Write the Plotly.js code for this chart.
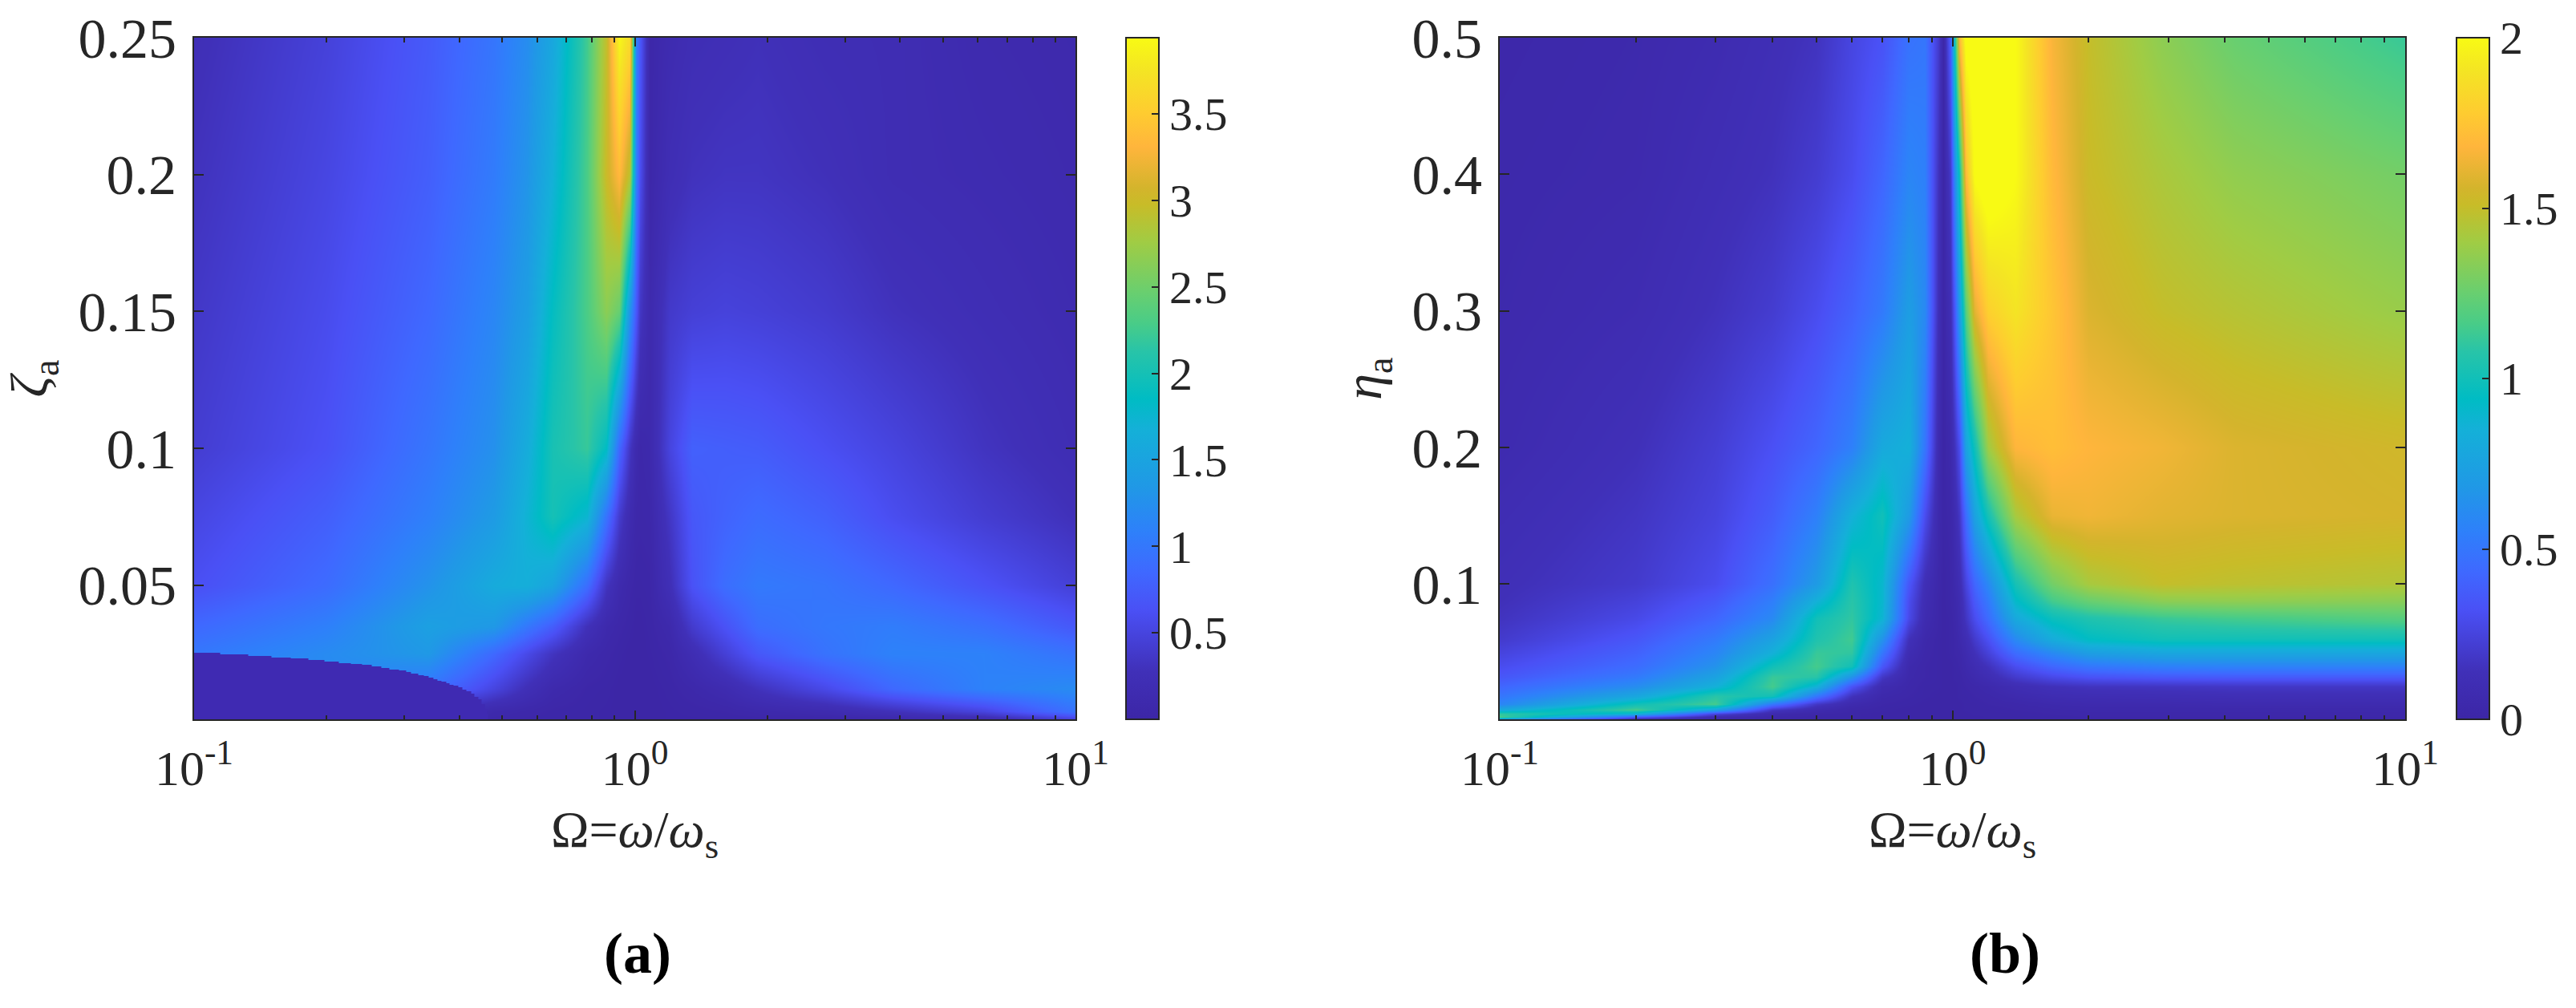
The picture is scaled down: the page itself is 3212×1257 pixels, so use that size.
<!DOCTYPE html>
<html><head><meta charset="utf-8">
<script src="https://cdn.plot.ly/plotly-3.0.1.min.js"></script>
<style>html,body{margin:0;padding:0;background:#fff}</style></head>
<body><div id="chart" style="width:3212px;height:1257px"></div>
<script>
// Panel (a): Omega (columns), zeta_a (rows, bottom to top)
const omegaA=[.1,.2,.34,.48,.57,.65,.78,.86,.92,.973,1.007,1.028,1.08,1.2,1.35,1.6,1.9,2.7,3.85,6.2,10];
const zetaA=[.001,.004,.012,.025,.035,.05,.075,.1,.15,.2,.25];
const zA=[
[.5,.5,.1,.05,.03,.02,.02,.01,0,0,0,0,0,.01,.01,.01,.02,.03,.07,.14,.45],
[1,1,.3,.1,.06,.03,.02,.01,0,0,0,0,0,.01,.02,.04,.08,.14,.28,.5,.95],
[1.1,1.2,.95,.5,.25,.1,.03,.02,0,0,0,0,0,.02,.07,.15,.3,.55,.85,1.1,1.2],
[1.0,1.2,1.35,.85,.55,.32,.1,.05,.02,0,0,0,.01,.05,.2,.45,.7,.95,1.1,1.1,.95],
[.85,1.08,1.45,1.35,1.0,.75,.28,.1,.05,.02,0,0,.02,.1,.4,.65,.9,1.0,1.05,.92,.7],
[.62,.88,1.28,1.6,1.65,1.5,.9,.32,.12,.05,.02,.02,.03,.25,.65,.9,1.02,.97,.85,.65,.45],
[.52,.76,1.08,1.38,1.72,2.0,1.75,.95,.4,.15,.06,.05,.06,.35,.7,.8,.88,.78,.6,.42,.28],
[.42,.64,.98,1.26,1.62,2.02,2.2,1.85,.85,.35,.12,.06,.1,.5,.78,.76,.74,.62,.5,.32,.2],
[.36,.58,.85,1.15,1.42,1.88,2.3,2.65,2.45,1.3,.7,.35,.12,.38,.45,.48,.46,.4,.3,.22,.15],
[.3,.52,.76,1.04,1.3,1.68,2.3,3.0,3.35,2.9,1.1,.6,.05,.22,.3,.33,.33,.28,.2,.16,.12],
[.25,.47,.72,.98,1.22,1.55,2.25,2.95,3.9,3.65,1.1,.7,.05,.15,.22,.25,.28,.22,.2,.13,.1]];
// Panel (a): dark lower-left region boundary
const darkOmega=[.1,.1146,.1327,.1498,.1657,.1817,.1976,.213,.2269,.2405,.253,.266,.2774,.2917,.3029,.3106,.3226,.3322,.3406,.3492,.3566,.3642,.3735,.3799,.3879,.3977,.4062,.4148,.4254,.4325,.4416,.4491,.4568,.4625,.4645];
const darkZeta=[.02532,.02473,.02415,.02356,.02327,.02268,.0221,.02151,.02122,.02092,.02034,.01975,.01917,.01887,.01829,.0177,.01712,.01682,.01624,.01565,.01506,.01477,.01419,.0136,.01331,.01272,.01184,.01126,.01038,.0092,.00833,.00657,.00481,.00305,.001];
// Panel (b): Omega (columns), eta_a (rows, bottom to top)
const omegaB=[.1,.2,.3,.4,.5,.6,.7,.8,.87,.93,.955,.99,1.01,1.035,1.07,1.12,1.2,1.38,1.66,2,2.9,4.2,10];
const etaB=[.001,.003,.005,.008,.012,.018,.025,.032,.04,.05,.06,.075,.088,.1,.15,.2,.3,.4,.5];
const zB=[
[.6,.05,.02,.01,.01,0,0,0,0,0,0,0,0,0,0,0,0,.01,.01,.01,.01,.01,.01],
[1.15,.35,.08,.03,.01,.01,0,0,0,0,0,0,0,0,0,0,.01,.01,.01,.02,.02,.02,.02],
[1.1,.85,.25,.06,.02,.01,0,0,0,0,0,0,0,0,0,.01,.01,.01,.02,.03,.03,.03,.03],
[.8,1.15,.75,.18,.07,.02,.01,0,0,0,0,0,0,0,.01,.01,.01,.02,.03,.04,.04,.04,.04],
[.58,1.0,1.15,.5,.18,.06,.02,.01,0,0,0,0,0,0,.01,.01,.02,.03,.05,.06,.06,.07,.07],
[.5,.78,1.08,1.0,.5,.15,.04,.02,.01,0,0,0,0,.01,.01,.02,.03,.06,.09,.1,.11,.12,.12],
[.42,.62,.85,1.15,.85,.33,.08,.03,.01,.01,0,0,0,.01,.02,.03,.05,.1,.14,.16,.17,.18,.18],
[.35,.52,.75,1.12,1.08,.65,.18,.04,.02,.01,0,0,.01,.01,.03,.06,.1,.2,.28,.33,.36,.37,.37],
[.3,.45,.65,1.0,1.15,1.0,.35,.05,.02,.01,0,0,.01,.02,.05,.09,.15,.3,.42,.5,.55,.56,.56],
[.25,.4,.58,.85,1.12,1.1,.5,.09,.03,.01,0,.01,.02,.03,.07,.14,.24,.45,.6,.72,.78,.78,.78],
[.2,.35,.52,.75,1.05,1.14,.65,.14,.04,.01,0,.01,.02,.05,.1,.2,.32,.6,.82,.94,1.0,1.0,1.0],
[.16,.28,.42,.6,1.0,1.1,.88,.28,.08,.02,0,.01,.03,.07,.17,.3,.45,.8,.98,1.05,1.12,1.15,1.2],
[.14,.24,.36,.54,.85,1.08,.9,.3,.1,.02,0,.02,.04,.08,.2,.36,.52,.92,1.15,1.25,1.35,1.36,1.34],
[.13,.2,.3,.47,.7,1.05,.9,.35,.12,.03,0,.02,.05,.1,.25,.42,.6,1.02,1.28,1.42,1.5,1.48,1.45],
[.1,.17,.25,.38,.55,.85,1.0,.7,.3,.05,.01,.03,.08,.18,.45,.75,1.02,1.42,1.62,1.64,1.6,1.58,1.56],
[.07,.14,.22,.32,.42,.55,.8,.85,.5,.07,0,.05,.15,.3,.75,1.0,1.4,1.68,1.72,1.68,1.64,1.58,1.54],
[.05,.09,.15,.21,.3,.4,.52,.72,.6,.12,.01,.12,.35,.7,1.2,1.6,1.8,1.9,1.75,1.58,1.5,1.46,1.38],
[.04,.06,.11,.15,.21,.3,.42,.58,.55,.15,.01,.2,.6,1.0,1.7,2.02,2.1,2.0,1.7,1.52,1.43,1.36,1.28],
[.03,.05,.08,.12,.16,.26,.33,.48,.5,.2,.02,.4,1.0,1.7,2.05,2.1,2.1,2.0,1.66,1.5,1.35,1.25,1.12]];
// Tick labels
const xTickVals=[.1,1,10];
const xTickText=['10<sup>-1</sup>','10<sup>0</sup>','10<sup>1</sup>'];
const zetaTicks=[.05,.1,.15,.2,.25];
const zetaLabels=['0.05','0.1','0.15','0.2','0.25'];
const etaTicks=[.1,.2,.3,.4,.5];
const etaLabels=['0.1','0.2','0.3','0.4','0.5'];
const barTicksA=[.5,1,1.5,2,2.5,3,3.5];
const barLabelsA=['0.5','1','1.5','2','2.5','3','3.5'];
const barTicksB=[0,.5,1,1.5,2];
const barLabelsB=['0','0.5','1','1.5','2'];
const parula=[[0,'#3c26a6'],[.07,'#4030b8'],[.16,'#4a50f5'],[.215,'#3f68ff'],[.275,'#2e80fa'],[.34,'#2098e6'],[.425,'#14b0d8'],[.47,'#00bcc4'],[.54,'#28c4a8'],[.58,'#48cc88'],[.625,'#68cf70'],[.7,'#a0cc44'],[.755,'#c8bc28'],[.78,'#d4b42c'],[.84,'#ffb53c'],[.89,'#fecc30'],[.95,'#f4e424'],[1,'#f8fa14']];

const W=3212,H=1257,ink='#262626',FONT='Liberation Serif';
const dx=(a,b)=>[a/W,b/W], dy=(t,b)=>[1-b/H,1-t/H];
function xax(dom){return {type:'log',domain:dom,range:[-1,1],tickmode:'array',tickvals:xTickVals,ticktext:xTickText,
 ticks:'inside',ticklen:11,tickwidth:2,tickcolor:ink,showline:true,linewidth:2,linecolor:ink,mirror:'ticks',showgrid:false,zeroline:false,
 minor:{ticks:'inside',ticklen:5.5,tickwidth:2,tickcolor:ink,tickvals:[.2,.3,.4,.5,.6,.7,.8,.9,2,3,4,5,6,7,8,9],showgrid:false},
 tickfont:{family:FONT,size:62,color:ink},ticklabelstandoff:6,
 title:{text:'Ω=<i>ω</i>/<i>ω</i><sub>s</sub>',font:{family:FONT,size:64,color:ink},standoff:20}};}
function yax(dom,range,tv,tt,ttl){return {domain:dom,range:range,tickmode:'array',tickvals:tv,ticktext:tt,
 ticks:'inside',ticklen:12,tickwidth:2,tickcolor:ink,showline:true,linewidth:2,linecolor:ink,mirror:'ticks',showgrid:false,zeroline:false,
 tickfont:{family:FONT,size:70,color:ink},ticklabelstandoff:6,
 title:{text:ttl,font:{family:FONT,size:66,color:ink},standoff:16}};}
function cbar(x,tv,tt){return {x:x/W,xanchor:'left',xpad:0,ypad:0,y:1-897/H,yanchor:'bottom',len:850/H,lenmode:'fraction',thickness:41,thicknessmode:'pixels',
 outlinewidth:2,outlinecolor:ink,tickmode:'array',tickvals:tv,ticktext:tt,ticks:'inside',ticklen:10,tickwidth:2,tickcolor:ink,
 tickfont:{family:FONT,size:58,color:ink}};}
const data=[
 {type:'heatmap',x:omegaA,y:zetaA,z:zA,zmin:0,zmax:3.94,zsmooth:'best',colorscale:parula,colorbar:cbar(1404,barTicksA,barLabelsA),xaxis:'x',yaxis:'y',hoverinfo:'skip'},
 {type:'scatter',mode:'lines',x:darkOmega,y:darkZeta,line:{width:0,shape:'hv'},fill:'tozeroy',fillcolor:'#3f2ab2',xaxis:'x',yaxis:'y',hoverinfo:'skip',showlegend:false},
 {type:'heatmap',x:omegaB,y:etaB,z:zB,zmin:0,zmax:2,zsmooth:'best',colorscale:parula,colorbar:cbar(3062.5,barTicksB,barLabelsB),xaxis:'x2',yaxis:'y2',hoverinfo:'skip'}
];
const xa=xax(dx(242,1341)), xb=xax(dx(1870,2999)); xb.anchor='y2';
const ya=yax(dy(47,897),[.001,.25],zetaTicks,zetaLabels,'<i>ζ</i><sub>a</sub>');
const yb=yax(dy(47,897),[.001,.5],etaTicks,etaLabels,'<i>η</i><sub>a</sub>'); yb.anchor='x2';
const layout={width:W,height:H,margin:{l:0,r:0,t:0,b:0},paper_bgcolor:'#fff',plot_bgcolor:'#fff',showlegend:false,
 xaxis:xa,yaxis:ya,xaxis2:xb,yaxis2:yb,
 annotations:[
  {text:'<b>(a)</b>',xref:'paper',yref:'paper',x:795/W,y:1-1189/H,xanchor:'center',yanchor:'middle',showarrow:false,font:{family:FONT,size:72,color:'#000'}},
  {text:'<b>(b)</b>',xref:'paper',yref:'paper',x:2500/W,y:1-1189/H,xanchor:'center',yanchor:'middle',showarrow:false,font:{family:FONT,size:72,color:'#000'}}
 ]};
Plotly.newPlot('chart',data,layout,{staticPlot:true,displayModeBar:false});
</script></body></html>
